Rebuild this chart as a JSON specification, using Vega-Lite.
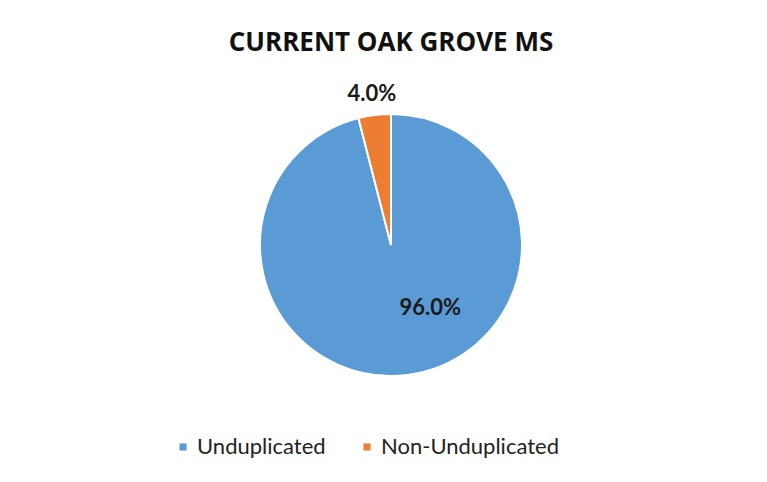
{
  "$schema": "https://vega.github.io/schema/vega-lite/v6.json",
  "width": 262,
  "height": 262,
  "autosize": "none",
  "padding": {"left": 260, "top": 114, "right": 245, "bottom": 106},
  "background": "white",
  "title": {
    "text": "CURRENT OAK GROVE MS",
    "font": "Open Sans",
    "fontSize": 26,
    "fontWeight": "bold",
    "color": "#111111",
    "frame": "group",
    "anchor": "middle",
    "offset": 27
  },
  "data": {
    "values": [
      {"category": "Unduplicated", "share": 96.0, "label": "96.0%", "order": 1},
      {"category": "Non-Unduplicated", "share": 4.0, "label": "4.0%", "order": 2}
    ]
  },
  "encoding": {
    "theta": {"field": "share", "type": "quantitative", "stack": true},
    "order": {"field": "order", "type": "quantitative"}
  },
  "layer": [
    {
      "mark": {"type": "arc", "outerRadius": 131, "stroke": "white", "strokeWidth": 2},
      "encoding": {
        "color": {
          "field": "category",
          "type": "nominal",
          "scale": {"domain": ["Unduplicated", "Non-Unduplicated"], "range": ["#5B9BD5", "#ED7D31"]},
          "legend": {
            "title": null,
            "orient": "none",
            "direction": "horizontal",
            "legendX": -88,
            "legendY": 322,
            "symbolType": "square",
            "symbolSize": 50,
            "symbolStrokeWidth": 0,
            "labelFont": "Lato",
            "labelFontSize": 22,
            "labelColor": "#222222",
            "labelOffset": 3,
            "columnPadding": 30,
            "padding": 0,
            "labelLimit": 300
          }
        }
      }
    },
    {
      "mark": {"type": "text", "radius": 74, "font": "Lato", "fontSize": 22, "fontWeight": "bold", "color": "#1a1a1a", "dx": 30, "dy": -10},
      "encoding": {
        "text": {"condition": {"test": "datum.category === 'Unduplicated'", "field": "label"}, "value": ""}
      }
    },
    {
      "mark": {"type": "text", "radius": 152, "font": "Lato", "fontSize": 22, "fontWeight": "bold", "color": "#1a1a1a"},
      "encoding": {
        "text": {"condition": {"test": "datum.category === 'Non-Unduplicated'", "field": "label"}, "value": ""}
      }
    }
  ]
}
